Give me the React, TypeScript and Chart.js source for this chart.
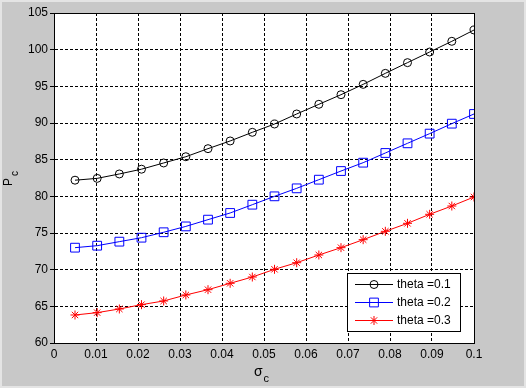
import React, { useEffect, useRef } from "react";
import { Chart, registerables } from "chart.js";

Chart.register(...registerables);

const sigmaC: number[] = [0.005, 0.01028, 0.01556, 0.02083, 0.02611, 0.03139, 0.03667, 0.04194, 0.04722, 0.0525, 0.05778, 0.06306, 0.06833, 0.07361, 0.07889, 0.08417, 0.08944, 0.09472, 0.1];
const theta01: number[] = [82.2, 82.45, 83.05, 83.7, 84.55, 85.4, 86.5, 87.55, 88.73, 89.86, 91.23, 92.55, 93.86, 95.27, 96.77, 98.23, 99.68, 101.14, 102.68];
const theta02: number[] = [73.0, 73.27, 73.82, 74.36, 75.1, 75.9, 76.82, 77.73, 78.86, 80.0, 81.09, 82.27, 83.45, 84.59, 85.91, 87.23, 88.55, 89.91, 91.23];
const theta03: number[] = [63.82, 64.14, 64.64, 65.23, 65.73, 66.55, 67.27, 68.14, 69.0, 70.05, 70.95, 72.0, 73.0, 74.09, 75.23, 76.32, 77.55, 78.68, 79.91];
const seriesLabels: string[] = ["theta =0.1", "theta =0.2", "theta =0.3"];

const FONT = "'Liberation Sans', Arial, sans-serif";

export default function App() {
  const ref = useRef<HTMLCanvasElement | null>(null);
  useEffect(() => {
    document.body.style.margin = "0";
    const canvas = ref.current;
    if (!canvas) return;
    const mk = (d: number[]) => sigmaC.map((x, i) => ({ x, y: d[i] }));
    const styles = [
      { color: "#000000", pointStyle: "circle", radius: 4 },
      { color: "#0000ff", pointStyle: "rect", radius: 6.2 },
      { color: "#ff0000", pointStyle: "star", radius: 4.5 },
    ];
    const series = [theta01, theta02, theta03];

    const bgPlugin = {
      id: "bg",
      beforeDraw(chart: any) {
        const { ctx, chartArea: a } = chart;
        ctx.save();
        ctx.fillStyle = "#ffffff";
        ctx.fillRect(a.left, a.top, a.right - a.left, a.bottom - a.top);
        ctx.restore();
      },
      beforeDatasetsDraw(chart: any) {
        const { ctx, chartArea: a } = chart;
        ctx.save();
        ctx.strokeStyle = "#000";
        ctx.lineWidth = 1;
        ctx.setLineDash([]);
        ctx.strokeRect(Math.round(a.left) + 0.5, Math.round(a.top) + 0.5, Math.round(a.right - a.left), Math.round(a.bottom - a.top));
        ctx.restore();
      },
      afterDraw(chart: any) {
        const { ctx, chartArea: a } = chart;
        ctx.save();
        // axis titles
        ctx.fillStyle = "#000";
        ctx.textBaseline = "alphabetic";
        ctx.textAlign = "left";
        const cx = (a.left + a.right) / 2;
        ctx.font = `14px ${FONT}`;
        const sw = ctx.measureText("σ").width;
        ctx.font = `11px ${FONT}`;
        const cw = ctx.measureText("c").width;
        const sx = cx - (sw + cw) / 2 - 3;
        ctx.font = `14px ${FONT}`;
        ctx.fillText("σ", sx, 376);
        ctx.font = `11px ${FONT}`;
        ctx.fillText("c", sx + sw + 1, 382);

        ctx.save();
        const cy = (a.top + a.bottom) / 2;
        ctx.translate(12, cy + 8);
        ctx.rotate(-Math.PI / 2);
        ctx.font = `12px ${FONT}`;
        ctx.fillText("P", 0, 0);
        const pw = ctx.measureText("P").width;
        ctx.font = `10px ${FONT}`;
        ctx.fillText("c", pw + 2, 6);
        ctx.restore();

        // legend
        const lx = 347, ly = 273, lw = 113, lh = 58;
        ctx.fillStyle = "#fff";
        ctx.fillRect(lx, ly, lw, lh);
        ctx.strokeStyle = "#000";
        ctx.lineWidth = 1;
        ctx.strokeRect(lx + 0.5, ly + 0.5, lw, lh);
        const rows = [284, 302, 320];
        rows.forEach((ry, i) => {
          const s = styles[i];
          ctx.strokeStyle = s.color;
          ctx.lineWidth = 1;
          ctx.beginPath();
          ctx.moveTo(355, ry + 0.5);
          ctx.lineTo(393, ry + 0.5);
          ctx.stroke();
          (Chart as any).helpers?.drawPoint
            ? null
            : null;
          drawMarker(ctx, s.pointStyle, s.radius, 374, ry + 0.5, s.color);
          ctx.fillStyle = "#000";
          ctx.font = `12px ${FONT}`;
          ctx.textBaseline = "middle";
          ctx.fillText(seriesLabels[i], 397, ry + 1);
        });
        ctx.restore();
      },
    };

    function drawMarker(ctx: CanvasRenderingContext2D, style: string, r: number, x: number, y: number, color: string) {
      ctx.save();
      ctx.strokeStyle = color;
      ctx.lineWidth = 1;
      ctx.beginPath();
      if (style === "circle") {
        ctx.arc(x, y, r, 0, Math.PI * 2);
      } else if (style === "rect") {
        const s = Math.SQRT1_2 * r;
        ctx.rect(x - s, y - s, 2 * s, 2 * s);
      } else {
        ctx.moveTo(x - r, y);
        ctx.lineTo(x + r, y);
        ctx.moveTo(x, y - r);
        ctx.lineTo(x, y + r);
        const d = r * Math.SQRT1_2;
        ctx.moveTo(x - d, y - d);
        ctx.lineTo(x + d, y + d);
        ctx.moveTo(x - d, y + d);
        ctx.lineTo(x + d, y - d);
      }
      ctx.stroke();
      ctx.restore();
    }

    const chart = new Chart(canvas, {
      type: "line",
      data: {
        datasets: series.map((d, i) => ({
          label: seriesLabels[i],
          data: mk(d),
          borderColor: styles[i].color,
          backgroundColor: "rgba(0,0,0,0)",
          borderWidth: 1,
          pointStyle: styles[i].pointStyle as any,
          pointRadius: styles[i].radius,
          pointBorderWidth: 1,
          pointBorderColor: styles[i].color,
          pointBackgroundColor: "rgba(0,0,0,0)",
          tension: 0,
          fill: false,
        })),
      },
      options: {
        animation: false,
        responsive: false,
        events: [],
        layout: { padding: { left: 0, top: 13, right: 52, bottom: 0 } },
        plugins: { legend: { display: false }, tooltip: { enabled: false } },
        scales: {
          x: {
            type: "linear",
            min: 0,
            max: 0.1,
            afterFit: (s: any) => { s.height = 45; },
            ticks: {
              stepSize: 0.01,
              color: "#000",
              font: { family: FONT, size: 12 },
              padding: 4,
              maxRotation: 0,
              autoSkip: false,
              callback: (v: any) => String(Number(Number(v).toFixed(3))),
            },
            grid: { color: "#000", lineWidth: 1, tickLength: 0, drawTicks: false },
            border: { display: true, color: "#000", dash: [3, 2] },
          },
          y: {
            type: "linear",
            min: 60,
            max: 105,
            afterFit: (s: any) => { s.width = 54; },
            ticks: {
              stepSize: 5,
              color: "#000",
              font: { family: FONT, size: 12 },
              padding: 2,
              autoSkip: false,
            },
            grid: { color: "#000", lineWidth: 1, tickLength: 4 },
            border: { display: true, color: "#000", dash: [3, 2] },
          },
        },
      },
      plugins: [bgPlugin],
    } as any);
    return () => chart.destroy();
  }, []);

  return (
    <div
      style={{
        position: "fixed",
        left: 0,
        top: 0,
        width: 526,
        height: 388,
        boxSizing: "border-box",
        border: "2px solid #e4e4e4",
        background: "#c8c8c8",
      }}
    >
      <canvas ref={ref} width={526} height={388} style={{ position: "absolute", left: -2, top: -2, width: 526, height: 388 }} />
    </div>
  );
}
